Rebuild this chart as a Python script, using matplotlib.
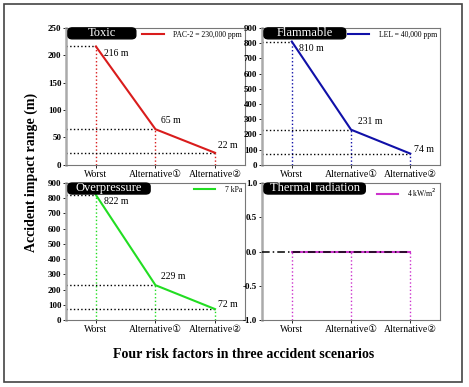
import numpy as np
import matplotlib
matplotlib.use('Agg')
import matplotlib.pyplot as plt
from matplotlib.patches import FancyBboxPatch, Rectangle

plt.rcParams['font.family'] = ['Liberation Serif', 'DejaVu Sans']

# data
scenarios = ['Worst', 'Alternative\u2460', 'Alternative\u2461']
toxic = [216, 65, 22]
flammable = [810, 231, 74]
overpressure = [822, 229, 72]
thermal = [0, 0, 0]

panels = [
    dict(name='Toxic', vals=toxic, color='#d91c1c', leg='PAC-2 = 230,000 ppm',
         ylim=(0, 250), yticks=[0, 50, 100, 150, 200, 250],
         rect=[0.141, 0.574, 0.381, 0.354], boxw=0.40,
         offs=[(6, -5), (4, 6), (2, 5)]),
    dict(name='Flammable', vals=flammable, color='#1010a8', leg='LEL = 40,000 ppm',
         ylim=(0, 900), yticks=list(range(0, 901, 100)),
         rect=[0.559, 0.574, 0.379, 0.354], boxw=0.48,
         offs=[(5, -5), (5, 6), (3, 3)]),
    dict(name='Overpressure', vals=overpressure, color='#22dd22', leg='7 kPa',
         ylim=(0, 900), yticks=list(range(0, 901, 100)),
         rect=[0.141, 0.173, 0.381, 0.354], boxw=0.48,
         offs=[(6, -5), (4, 6), (2, 3)]),
    dict(name='Thermal radiation', vals=thermal, color='#cc33cc', leg='4 kW/m$^2$',
         ylim=(-1, 1), yticks=[-1.0, -0.5, 0.0, 0.5, 1.0],
         rect=[0.559, 0.173, 0.379, 0.354], boxw=0.59, offs=None),
]

fig = plt.figure(figsize=(4.69, 3.87), dpi=100)
fig.patches.append(Rectangle((0.009, 0.012), 0.976, 0.978, transform=fig.transFigure,
                             fill=False, edgecolor='#444444', linewidth=1.2))

x = np.arange(len(scenarios))
for p in panels:
    ax = fig.add_axes(p['rect'])
    lo, hi = p['ylim']
    ax.set_xlim(-0.5, 2.5)
    ax.set_ylim(lo, hi)
    if p['offs'] is None:
        ax.plot(x, p['vals'], color=p['color'], lw=1.5, label=p['leg'], zorder=3)
        ax.plot([-0.5, 2], [0, 0], color='black', lw=1.1, ls=(0, (5, 2, 1, 2)), zorder=4)
        for xi, v in zip(x, p['vals']):
            ax.plot([xi, xi], [lo, v], color=p['color'], lw=1, ls=':', zorder=1)
        ax.set_yticks(p['yticks'])
        ax.set_yticklabels(['-1.0', '-0.5', '0.0', '0.5', '1.0'])
    else:
        ax.plot(x, p['vals'], color=p['color'], lw=1.5, label=p['leg'], zorder=3)
        for xi, v, off in zip(x, p['vals'], p['offs']):
            ax.plot([xi, xi], [lo, v], color=p['color'], lw=1, ls=':', zorder=1)
            ax.plot([-0.5, xi], [v, v], color='black', lw=1, ls=':', zorder=1)
            ax.annotate('%d m' % v, (xi, v), xytext=off, textcoords='offset points',
                        fontsize=7, ha='left', va='center')
        ax.set_yticks(p['yticks'])
    ax.set_xticks(x)
    ax.set_xticklabels(scenarios, fontsize=7)
    for lab in ax.get_yticklabels():
        lab.set_fontweight('bold')
        lab.set_fontsize(6.5)
    ax.tick_params(axis='both', length=2, width=0.6, pad=1.5, colors='black')
    for s in ax.spines.values():
        s.set_color('#777777')
        s.set_linewidth(0.8)
    ax.spines['left'].set_color('#aaaaaa')
    ax.spines['left'].set_linewidth(1.8)

    # title box
    bh = 0.08
    ax.add_patch(FancyBboxPatch((0.01, 1.0 - bh), p['boxw'] - 0.02, bh,
                                boxstyle='round,pad=0.0,rounding_size=0.025',
                                transform=ax.transAxes, facecolor='black',
                                edgecolor='black', clip_on=False, zorder=5))
    ax.text(p['boxw'] / 2, 1.0 - bh / 2 + 0.005, p['name'], transform=ax.transAxes,
            color='white', fontsize=9, ha='center', va='center', zorder=6)
    ax.legend(loc='upper right', frameon=False, fontsize=5.5, handlelength=2.8,
              borderaxespad=0.1, handletextpad=1.2, borderpad=0.3)

fig.text(0.066, 0.555, 'Accident impact range (m)', rotation=90, ha='center', va='center',
         fontsize=10, fontweight='bold')
fig.text(0.52, 0.083, 'Four risk factors in three accident scenarios', ha='center',
         va='center', fontsize=10, fontweight='bold')

fig.savefig('out.png', dpi=100)
